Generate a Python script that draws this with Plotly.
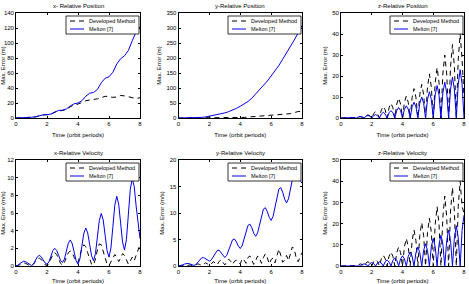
import plotly.graph_objects as go

# ---------------- data ----------------
T4 = [0, 0.25, 0.5, 0.75, 1, 1.25, 1.5, 1.75, 2, 2.25, 2.5, 2.75, 3, 3.25, 3.5, 3.75,
      4, 4.25, 4.5, 4.75, 5, 5.25, 5.5, 5.75, 6, 6.25, 6.5, 6.75, 7, 7.25, 7.5, 7.75, 8]
T8 = [0, 0.125, 0.25, 0.375, 0.5, 0.625, 0.75, 0.875, 1, 1.125, 1.25, 1.375, 1.5, 1.625, 1.75, 1.875,
      2, 2.125, 2.25, 2.375, 2.5, 2.625, 2.75, 2.875, 3, 3.125, 3.25, 3.375, 3.5, 3.625, 3.75, 3.875,
      4, 4.125, 4.25, 4.375, 4.5, 4.625, 4.75, 4.875, 5, 5.125, 5.25, 5.375, 5.5, 5.625, 5.75, 5.875,
      6, 6.125, 6.25, 6.375, 6.5, 6.625, 6.75, 6.875, 7, 7.125, 7.25, 7.375, 7.5, 7.625, 7.75, 7.875, 8]

xpos_dev = [0, 0, 0.2, 0.5, 1, 1.5, 2.8, 4, 4.3, 5, 7.5, 9.5, 10, 11.5, 15, 17.5,
            18.5, 21, 23, 24, 24.5, 25.5, 27, 29, 28.5, 27.5, 28, 30, 29.5, 28, 26.5, 26, 27]
xpos_mel = [0, 0, 0.2, 0.5, 1, 1.5, 3, 4.3, 4.5, 5.2, 8, 10, 10.5, 12, 16, 19,
            20, 23, 29, 33, 34, 38, 47, 53, 55, 61, 72, 79, 83, 90, 103, 115, 122]

ypos_dev = [0, 0, 0, 0.1, 0.2, 0.4, 0.6, 0.8, 1, 1.2, 1.3, 1.2, 1.1, 1.3, 1.6, 1.6,
            1.5, 2, 3, 4, 4.5, 5, 6, 7.5, 8, 9, 10.5, 12, 13, 14.5, 18, 21.5, 22]
ypos_mel = [0, 0, 0.1, 0.3, 0.6, 1.2, 2, 3.5, 6, 8, 10, 13, 17, 21, 26, 32,
            39, 46, 55, 66, 80, 93, 107, 123, 140, 157, 175, 196, 216, 237, 260, 283, 308]

zpos_dev = [0, 0.07, 0.1, 0.07, 0, 0.14, 0.2, 0.14, 0, 0.4, 0.6, 0.4, 0, 1.05, 1.5, 1.05,
            0, 2.1, 3.0, 2.1, 0, 3.9, 5.5, 3.9, 0, 4.9, 7.0, 4.9, 0, 6.6, 9.5, 6.6,
            0, 7.4, 10.5, 7.4, 0, 9.8, 14.0, 9.8, 0, 11.2, 16.0, 11.2, 0, 14.7, 21.0, 14.7,
            0, 16.8, 24.0, 16.8, 0, 21.0, 30.0, 21.0, 0, 24.5, 35.0, 24.5, 0, 28.0, 40.0, 28.0, 10]
zpos_mel = [0, 0.07, 0.1, 0.07, 0, 0.14, 0.2, 0.14, 0, 0.5, 0.7, 0.5, 0, 0.85, 1.2, 0.85,
            0, 1.1, 1.6, 1.1, 0, 1.9, 2.7, 1.9, 0, 2.5, 3.5, 2.5, 0, 3.5, 5.0, 3.5,
            0, 4.1, 5.8, 4.1, 0, 5.3, 7.5, 5.3, 0, 7.0, 10.0, 7.0, 0, 8.8, 12.5, 8.8,
            0, 10.9, 15.5, 10.9, 0, 12.0, 17.0, 12.0, 0, 13.7, 19.5, 13.7, 0, 16.1, 23.0, 16.1, 0]

xvel_dev = [0, 0.05, 0.15, 0.3, 0.35, 0.3, 0.15, 0.05, 0.05, 0.2, 0.5, 0.8, 0.9, 0.75, 0.45, 0.15,
            0.05, 0.3, 0.8, 1.3, 1.5, 1.3, 0.8, 0.3, 0.1, 0.4, 1.0, 1.5, 1.7, 1.5, 1.0, 0.5,
            0.4, 1.2, 2.0, 2.4, 2.2, 1.5, 0.8, 0.2, 0.1, 0.8, 1.8, 2.5, 2.4, 1.6, 0.7, 0.2,
            0.05, 0.5, 1.0, 1.3, 1.0, 0.5, 0.9, 1.4, 1.2, 0.6, 0.2, 0.6, 1.0, 0.6, 1.2, 2.0, 2.4]
xvel_mel = [0, 0.08, 0.28, 0.47, 0.55, 0.48, 0.3, 0.13, 0.05, 0.22, 0.63, 1.03, 1.2, 1.05, 0.7, 0.35,
            0.2, 0.47, 1.1, 1.73, 2.0, 1.76, 1.2, 0.64, 0.4, 0.78, 1.68, 2.57, 2.95, 2.54, 1.58, 0.61,
            0.2, 0.82, 2.25, 3.69, 4.3, 3.75, 2.45, 1.16, 0.6, 1.4, 3.28, 5.15, 5.95, 5.21, 3.48, 1.74,
            1.0, 2.04, 4.45, 6.87, 7.9, 6.99, 4.85, 2.72, 1.8, 3.02, 5.85, 8.69, 9.9, 9.0, 6.8, 4.6, 3.1]

yvel_dev = [0, 0.05, 0.1, 0.1, 0.05, 0.1, 0.2, 0.1, 0.05, 0.2, 0.4, 0.3, 0.1, 0.3, 0.6, 0.4,
            0.1, 0.4, 0.8, 0.6, 0.2, 0.8, 1.2, 0.7, 0.2, 0.8, 1.3, 0.9, 0.3, 0.9, 1.1, 0.6,
            0.4, 1.4, 1.1, 0.5, 1.6, 1.9, 0.9, 0.3, 1.0, 1.9, 1.5, 0.5, 1.6, 2.3, 1.6, 0.4,
            1.2, 1.5, 0.6, 2.2, 3.2, 2.0, 0.7, 1.1, 2.0, 1.0, 2.6, 3.6, 3.2, 1.5, 0.8, 1.6, 2.5]
yvel_mel = [0, 0.06, 0.2, 0.36, 0.48, 0.5, 0.38, 0.2, 0.1, 0.28, 0.7, 1.18, 1.53, 1.6, 1.39, 1.08,
            0.9, 1.15, 1.74, 2.41, 2.9, 3.0, 2.58, 1.95, 1.6, 2.02, 3.0, 4.12, 4.93, 5.1, 4.56, 3.75,
            3.3, 3.85, 5.14, 6.61, 7.67, 7.9, 7.21, 6.18, 5.6, 6.25, 7.76, 9.49, 10.73, 11.0, 10.28, 9.2,
            8.6, 9.34, 11.08, 13.06, 14.49, 14.8, 13.93, 12.63, 11.9, 12.68, 14.5, 16.58, 18.08, 18.4, 17.3, 16.2, 15.6]

zvel_dev = [0, 0.07, 0.1, 0.07, 0, 0.21, 0.3, 0.21, 0, 0.7, 1.0, 0.7, 0, 1.4, 2.0, 1.4,
            0, 2.1, 3.0, 2.1, 0, 3.5, 5.0, 3.5, 0, 4.6, 6.6, 4.6, 0, 6.3, 9.0, 6.3,
            0, 9.1, 13.0, 9.1, 0, 11.9, 17.0, 11.9, 0, 14.4, 20.5, 14.4, 0, 15.8, 22.5, 15.8,
            0, 19.6, 28.0, 19.6, 0, 23.1, 33.0, 23.1, 0, 25.9, 37.0, 25.9, 0, 28.0, 40.0, 28.0, 25]
zvel_mel = [0, 0, 0, 0.14, 0.2, 0.14, 0, 0.21, 0.3, 0.21, 0, 0.7, 1.0, 0.7, 0, 1.12,
            1.6, 1.12, 0, 1.4, 2.0, 1.4, 0, 1.96, 2.8, 1.96, 0, 2.66, 3.8, 2.66, 0, 3.36,
            4.8, 3.36, 0, 4.62, 6.6, 4.62, 0, 6.3, 9.0, 6.3, 0, 7.35, 10.5, 7.35, 0, 9.1,
            13.0, 9.1, 0, 10.15, 14.5, 10.15, 0, 11.9, 17.0, 11.9, 0, 13.3, 19.0, 13.3, 0, 16.8, 24.0]

titles = ["x- Relative Position", "y-Relative Position", "z-Relative Position",
          "x-Relative Velocity", "y-Relative Velocity", "z-Relative Velocity"]
ytitles = ["Max. Error (m)", "Max. Error (m)", "Max. Error (m)",
           "Max. Error (m/s)", "Max. Error (m/s)", "Max. Error (m/s)"]
xtitle = "Time (orbit periods)"
ymax = [140, 350, 50, 12, 20, 50]
ydtick = [20, 50, 10, 2, 5, 10]
series_names = ["Developed Method", "Melton [7]"]
xticks = [0, 2, 4, 6, 8]

panels = [(T4, xpos_dev, xpos_mel), (T4, ypos_dev, ypos_mel), (T8, zpos_dev, zpos_mel),
          (T8, xvel_dev, xvel_mel), (T8, yvel_dev, yvel_mel), (T8, zvel_dev, zvel_mel)]

# ---------------- layout ----------------
W, H = 469, 284
cols = [(16, 140), (178.5, 302), (341, 464)]
rows = [(13, 118), (160, 266)]
FONT = "Liberation Sans, Arial, Helvetica, sans-serif"
DEV_STYLE = dict(color="black", width=1, dash="5px,4px")
MEL_STYLE = dict(color="#0000ee", width=1)


def px(x):
    return x / W


def py(y):
    return 1 - y / H


fig = go.Figure()
layout = dict(width=W, height=H, margin=dict(l=0, r=0, t=0, b=0),
              paper_bgcolor="white", plot_bgcolor="white", showlegend=False,
              font=dict(family=FONT, size=6, color="black"), annotations=[], shapes=[])

for i, (t, dev, mel) in enumerate(panels):
    r, c = divmod(i, 3)
    sfx = "" if i == 0 else str(i + 1)
    x0, x1 = cols[c]
    top, bot = rows[r]
    fig.add_trace(go.Scatter(x=t, y=dev, mode="lines", name=series_names[0], line=DEV_STYLE,
                             xaxis="x" + sfx, yaxis="y" + sfx))
    fig.add_trace(go.Scatter(x=t, y=mel, mode="lines", name=series_names[1], line=MEL_STYLE,
                             xaxis="x" + sfx, yaxis="y" + sfx))
    common = dict(showline=True, linecolor="black", linewidth=0.8, mirror="ticks",
                  ticks="inside", ticklen=2.5, tickwidth=0.8, tickcolor="black",
                  showgrid=False, zeroline=False, automargin=False,
                  tickfont=dict(family=FONT, size=6, color="black"))
    layout["xaxis" + sfx] = dict(domain=[px(x0), px(x1)], anchor="y" + sfx, range=[0, 8],
                                 tickvals=xticks, ticktext=[str(v) for v in xticks],
                                 title=dict(text=xtitle, font=dict(size=6), standoff=6), **common)
    layout["yaxis" + sfx] = dict(domain=[py(bot), py(top)], anchor="x" + sfx,
                                 range=[0, ymax[i]], dtick=ydtick[i], tick0=0,
                                 title=dict(text=ytitles[i], font=dict(size=6), standoff=4), **common)
    layout["annotations"].append(dict(text=titles[i], xref="paper", yref="paper",
                                      x=px((x0 + x1) / 2), y=py(top), xanchor="center", yanchor="bottom",
                                      yshift=2, showarrow=False,
                                      font=dict(family=FONT, size=6, color="black")))
    # legend box (drawn manually to match the compact MATLAB legend)
    bl, br = x1 - 74, x1 - 1
    bt, bb = top + 3, top + 21
    layout["shapes"].append(dict(type="rect", xref="paper", yref="paper",
                                 x0=px(bl), x1=px(br), y0=py(bb), y1=py(bt),
                                 fillcolor="white", line=dict(color="black", width=0.8), layer="above"))
    for k, (name, style) in enumerate(zip(series_names, [DEV_STYLE, MEL_STYLE])):
        ly = bt + 5 + 8 * k
        layout["shapes"].append(dict(type="line", xref="paper", yref="paper",
                                     x0=px(bl + 4), x1=px(bl + 18), y0=py(ly), y1=py(ly),
                                     line=style, layer="above"))
        layout["annotations"].append(dict(text=name, xref="paper", yref="paper",
                                          x=px(bl + 21), y=py(ly), xanchor="left", yanchor="middle",
                                          showarrow=False,
                                          font=dict(family=FONT, size=5.5, color="black")))

fig.update_layout(**layout)
fig.write_html("out.html")
